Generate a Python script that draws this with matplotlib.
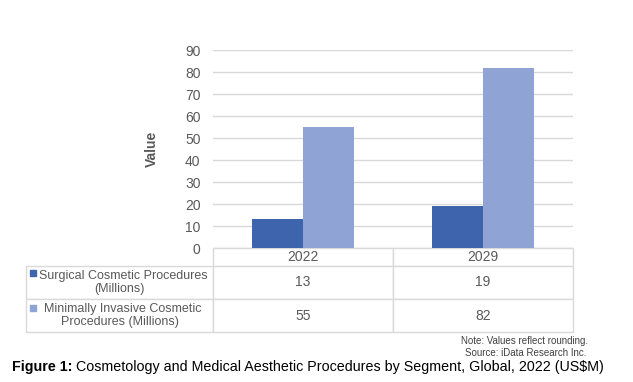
import matplotlib
matplotlib.use("Agg")
import matplotlib.pyplot as plt

plt.rcParams["font.family"] = ["Liberation Sans", "DejaVu Sans"]

years = ["2022", "2029"]
series_names = ["Surgical Cosmetic Procedures\n(Millions)",
                "Minimally Invasive Cosmetic\nProcedures (Millions)"]
surgical = [13, 19]
minimally_invasive = [55, 82]
colors = ["#3d64ac", "#8fa4d4"]
yticks = [0, 10, 20, 30, 40, 50, 60, 70, 80, 90]

W, H = 633, 382
fig = plt.figure(figsize=(W / 100, H / 100), dpi=100)
# plot area in pixels: x 213-573, y 50-248
ax = fig.add_axes([213 / W, 1 - 248 / H, 360 / W, 198 / H])

txt_col = "#595959"
grid_col = "#d9d9d9"

x = list(range(len(years)))
bw = 0.283
ax.bar([i - bw / 2 for i in x], surgical, bw, color=colors[0], zorder=3)
ax.bar([i + bw / 2 for i in x], minimally_invasive, bw, color=colors[1], zorder=3)

ax.set_xlim(-0.5, 1.5)
ax.set_ylim(0, 90)
ax.set_yticks(yticks)
ax.set_xticks([])
ax.tick_params(axis="y", length=0, labelsize=10, labelcolor=txt_col, pad=9)
ax.grid(axis="y", color=grid_col, linewidth=1, zorder=0)
for s in ax.spines.values():
    s.set_visible(False)
ax.set_ylabel("Value", fontsize=10, fontweight="bold", color=txt_col)
ax.yaxis.set_label_coords(-0.15, 0.5)

# data table under the chart (first line padded to leave room for the key)
labels = []
for name in series_names:
    first, second = name.split("\n")
    labels.append("  " + first + "\n" + second)
rows = [[labels[0], str(surgical[0]), str(surgical[1])],
        [labels[1], str(minimally_invasive[0]), str(minimally_invasive[1])]]
tab_left = (26 - 213) / 360
tab_h = 84 / 198
tbl = ax.table(cellText=rows, colLabels=[""] + years,
               colWidths=[187, 180, 180], cellLoc="center",
               bbox=[tab_left, -tab_h, 1 - tab_left, tab_h])
tbl.auto_set_font_size(False)
for (r, c), cell in tbl.get_celld().items():
    cell.set_edgecolor(grid_col)
    cell.set_linewidth(1)
    cell.set_height(18 if r == 0 else 33)
    cell.get_text().set_fontsize(10 if c > 0 else 9)
    cell.get_text().set_color(txt_col)
    cell.PAD = 0.02
    if r == 0 and c == 0:
        cell.visible_edges = ""
    if c == 0 and r > 0:
        cell.get_text().set_multialignment("center")

# legend keys in the row labels
key_x = (33 - 213) / 360
key_y = [(248 - 273) / 198, (248 - 308) / 198]
for ky, col in zip(key_y, colors):
    ax.plot([key_x], [ky], marker="s", markersize=5, color=col,
            transform=ax.transAxes, clip_on=False, zorder=5)

fig.text(588 / W, 1 - 341 / H, "Note: Values reflect rounding.", fontsize=7,
         color="#404040", ha="right", va="center")
fig.text(586 / W, 1 - 353 / H, "Source: iData Research Inc.", fontsize=7,
         color="#404040", ha="right", va="center")

cap_y = 1 - 367 / H
t1 = fig.text(12 / W, cap_y, "Figure 1:", fontsize=10.3, fontweight="bold",
              color="black", ha="left", va="center")
r = fig.canvas.get_renderer()
bb = t1.get_window_extent(renderer=r)
fig.text((bb.x1 + 4) / W, cap_y,
         "Cosmetology and Medical Aesthetic Procedures by Segment, Global, 2022 (US$M)",
         fontsize=10.3, color="black", ha="left", va="center")

fig.savefig("out.png", dpi=100)
